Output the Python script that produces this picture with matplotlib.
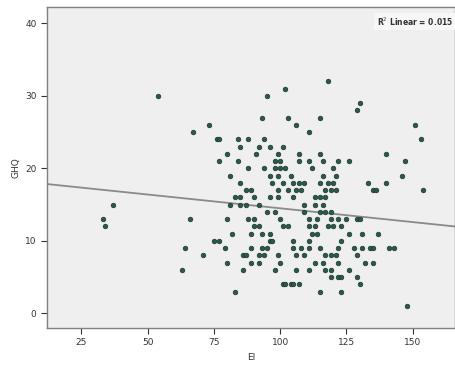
import numpy as np
import matplotlib
matplotlib.use("Agg")
import matplotlib.pyplot as plt

# EI scores grouped by GHQ score (both are integer scales)
ghq_rows = {
    32: [118],
    31: [102],
    30: [54, 95],
    29: [130],
    28: [129],
    27: [93, 103, 115],
    26: [73, 106, 151],
    25: [67, 111],
    24: [76, 77, 84, 88, 94, 153],
    23: [85, 92, 96, 101],
    22: [80, 91, 99, 107, 115, 140],
    21: [77, 84, 98, 100, 107, 111, 116, 122, 126, 147],
    20: [88, 94, 98, 100, 102, 112, 120],
    19: [81, 96, 99, 104, 116, 121, 146],
    18: [85, 97, 101, 105, 107, 109, 115, 118, 120, 133, 140],
    17: [87, 89, 99, 103, 106, 108, 117, 119, 121, 135, 136, 154],
    16: [83, 85, 90, 96, 99, 105, 113, 115, 117],
    15: [37, 81, 85, 87, 92, 109, 113, 116],
    14: [95, 98, 109, 115, 117, 119],
    13: [33, 66, 80, 88, 90, 100, 111, 114, 119, 122, 125, 129, 130],
    12: [34, 90, 92, 101, 103, 111, 113, 118, 120, 123],
    11: [82, 89, 93, 96, 112, 114, 126, 131, 137],
    10: [75, 77, 96, 97, 105, 111, 123],
    9: [64, 79, 89, 93, 95, 105, 108, 111, 115, 122, 128, 131, 134, 135, 141, 143],
    8: [71, 86, 87, 92, 94, 99, 106, 109, 117, 119, 121, 129],
    7: [80, 89, 92, 100, 113, 116, 122, 132, 135],
    6: [63, 86, 98, 106, 111, 117, 119, 126],
    5: [119, 122, 123, 129],
    4: [101, 102, 104, 105, 107, 130],
    3: [83, 115, 123],
    1: [148],
}

ei = np.array([e for g, row in ghq_rows.items() for e in row])
ghq = np.array([g for g, row in ghq_rows.items() for e in row])

# linear fit shown on the chart
fit_intercept = 18.3
fit_slope = -0.038
r2_linear = 0.015

x_ticks = [25, 50, 75, 100, 125, 150]
y_ticks = [0, 10, 20, 30, 40]

fig = plt.figure(figsize=(4.56, 3.71), dpi=100)
ax = fig.add_axes([0.103, 0.116, 0.895, 0.866])
ax.set_facecolor("#efefef")

ax.scatter(ei, ghq, s=11, c="#2a5a4a", edgecolors="#1d3530", linewidths=0.5, zorder=3)

xlim = (12, 166)
xs = np.array(xlim)
ax.plot(xs, fit_intercept + fit_slope * xs, color="#8a8a8a", lw=1.3, zorder=2)

ax.set_xlim(*xlim)
ax.set_ylim(-2, 42.3)
ax.set_xticks(x_ticks)
ax.set_yticks(y_ticks)
ax.tick_params(labelsize=6.5, colors="#333333", length=4, width=0.8)
for s in ax.spines.values():
    s.set_color("#7f7f7f")
    s.set_linewidth(1.0)

ax.set_xlabel("EI", fontsize=6.5, color="#333333", labelpad=4)
ax.set_ylabel("GHQ", fontsize=6.5, color="#333333", labelpad=3)

ax.text(0.995, 0.972, "R$^2$ Linear = %.3f" % r2_linear, transform=ax.transAxes,
        ha="right", va="top", fontsize=5.5, fontweight="bold", color="#333333",
        bbox=dict(boxstyle="square,pad=0.3", fc="#f7f7f7", ec="none"))

fig.savefig("out.png", dpi=100)
